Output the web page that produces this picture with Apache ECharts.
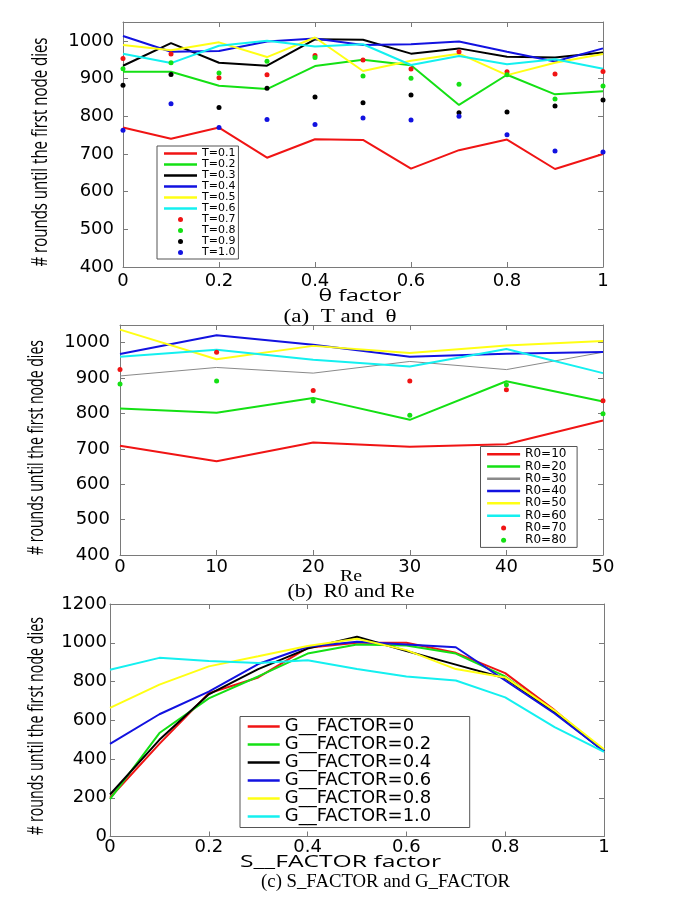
<!DOCTYPE html>
<html><head><meta charset="utf-8">
<script src="https://cdn.jsdelivr.net/npm/echarts@6/dist/echarts.min.js"></script>
<style>html,body{margin:0;padding:0;background:#fff}#c{width:685px;height:908px}</style>
</head><body><div id="c"></div>
<script>
// ---------- data: panel (a) T and theta ----------
const thetaX = [0, 0.1, 0.2, 0.3, 0.4, 0.5, 0.6, 0.7, 0.8, 0.9, 1];
const T01 = [770, 740, 770, 690, 739, 737, 661, 710, 738, 660, 700];
const T02 = [918, 918, 881, 872, 933, 950, 935, 830, 910, 858, 866];
const T03 = [934, 994, 942, 934, 1004, 1003, 966, 980, 958, 956, 969];
const T04 = [1013, 971, 973, 998, 1006, 989, 991, 998, 971, 945, 980];
const T05 = [989, 975, 996, 957, 1009, 920, 947, 966, 909, 942, 965];
const T06 = [966, 941, 987, 1000, 985, 991, 936, 960, 938, 951, 926];
const T07 = [953, 965, 902, 910, 961, 949, 925, 971, 918, 912, 919];
const T08 = [926, 942, 915, 946, 956, 907, 901, 885, 910, 846, 880];
const T09 = [882, 911, 823, 874, 851, 836, 856, 809, 811, 827, 843];
const T10 = [763, 833, 770, 791, 778, 795, 790, 800, 751, 708, 705];
const linesA = ['T=0.1','T=0.2','T=0.3','T=0.4','T=0.5','T=0.6'];
const dotsA = ['T=0.7','T=0.8','T=0.9','T=1.0'];

// ---------- data: panel (b) R0 and Re ----------
const reX = [0, 10, 20, 30, 40, 50];
const R10 = [709, 665, 718, 706, 713, 780];
const R20 = [814, 802, 844, 782, 891, 834];
const R30 = [906, 930, 914, 947, 924, 973];
const R40 = [968, 1021, 994, 960, 969, 974];
const R50 = [1037, 953, 991, 971, 992, 1005];
const R60 = [960, 980, 952, 933, 982, 914];
const R70 = [924, 973, 865, 892, 867, 836];
const R80 = [883, 892, 835, 795, 881, 799];
const linesB = ['R0=10','R0=20','R0=30','R0=40','R0=50','R0=60'];
const dotsB = ['R0=70','R0=80'];

// ---------- data: panel (c) S_FACTOR and G_FACTOR ----------
const sX = [0, 0.1, 0.2, 0.3, 0.4, 0.5, 0.6, 0.7, 0.8, 0.9, 1];
const G00 = [200, 478, 739, 821, 974, 1000, 1000, 948, 843, 652, 440];
const G02 = [193, 534, 713, 826, 944, 991, 986, 944, 826, 645, 440];
const G04 = [217, 499, 734, 864, 970, 1031, 957, 887, 817, 640, 440];
const G06 = [478, 631, 748, 890, 979, 1005, 991, 977, 805, 635, 440];
const G08 = [664, 784, 878, 930, 983, 1021, 962, 864, 821, 650, 450];
const G10 = [861, 922, 906, 896, 910, 865, 826, 805, 718, 565, 437];
const linesC = ['G__FACTOR=0','G__FACTOR=0.2','G__FACTOR=0.4','G__FACTOR=0.6','G__FACTOR=0.8','G__FACTOR=1.0'];

// tick labels
const yTicksAB = [400, 500, 600, 700, 800, 900, 1000];
const yTicksC = [0, 200, 400, 600, 800, 1000, 1200];

// ---------- styling ----------
const RED = '#f01414', GREEN = '#14e014', BLACK = '#000000', BLUE = '#1212e0', YELLOW = '#ffff14', CYAN = '#14f0f0', GRAY = '#8a8a8a';
const AX = '#7a7a7a';
const TICKFONT = 'DejaVu Sans';
const LINE_ICON = 'path://M0,0H40V3H0Z';

function pairs(xs, ys) { return xs.map((x, i) => [x, ys[i]]); }
function legendData(lines, dots) {
  return lines.map(n => ({ name: n, icon: LINE_ICON })).concat((dots || []).map(n => ({ name: n, icon: 'circle' })));
}

function xAxes(grid, min, max, interval, margin) {
  return [
    { type: 'value', gridIndex: grid, min, max, interval, position: 'bottom',
      axisLine: { show: true, onZero: false, lineStyle: { color: AX, width: 1 } },
      axisTick: { show: true, inside: true, length: 5, lineStyle: { color: AX } },
      axisLabel: { margin, color: '#000', fontFamily: TICKFONT, fontSize: 18 },
      splitLine: { show: false } },
    { type: 'value', gridIndex: grid, min, max, interval, position: 'top',
      axisLine: { show: true, onZero: false, lineStyle: { color: AX, width: 1 } },
      axisTick: { show: true, inside: true, length: 5, lineStyle: { color: AX } },
      axisLabel: { show: false }, splitLine: { show: false } }
  ];
}
function yAxes(grid, min, max, interval, margin, ticks) {
  return [
    { type: 'value', gridIndex: grid, min, max, interval, position: 'left',
      axisLine: { show: true, onZero: false, lineStyle: { color: AX, width: 1 } },
      axisTick: { show: true, inside: true, length: 5, lineStyle: { color: AX } },
      axisLabel: { margin, color: '#000', fontFamily: TICKFONT, fontSize: 18,
        formatter: v => ticks.includes(v) ? String(v) : '' },
      splitLine: { show: false } },
    { type: 'value', gridIndex: grid, min, max, interval, position: 'right',
      axisLine: { show: true, onZero: false, lineStyle: { color: AX, width: 1 } },
      axisTick: { show: true, inside: true, length: 5, lineStyle: { color: AX } },
      axisLabel: { show: false }, splitLine: { show: false } }
  ];
}
function line(name, xs, ys, color, axisIdx, width) {
  return { type: 'line', name, data: pairs(xs, ys), xAxisIndex: axisIdx, yAxisIndex: axisIdx,
    symbol: 'none', showSymbol: false, lineStyle: { color, width: width || 2 }, itemStyle: { color }, z: 2 };
}
function dots(name, xs, ys, color, axisIdx) {
  return { type: 'scatter', name, data: pairs(xs, ys), xAxisIndex: axisIdx, yAxisIndex: axisIdx,
    symbol: 'circle', symbolSize: 5, itemStyle: { color, opacity: 1 }, z: 3 };
}

// text fitting helpers for titles (stretched like the reference)
const mctx = document.createElement('canvas').getContext('2d');
function textW(text, font) { mctx.font = font; return mctx.measureText(text).width; }
function hText(text, cx, cy, family, size, targetW) {
  const font = size + 'px "' + family + '"';
  const s = targetW / textW(text, font);
  return { type: 'text', x: cx, y: cy, scaleX: s, z: 10,
    style: { text, font, fill: '#000', align: 'center', verticalAlign: 'middle' } };
}
function vText(text, cx, cy, family, size, targetLen, thick) {
  const font = size + 'px "' + family + '"';
  const s = targetLen / textW(text, font);
  return { type: 'text', x: cx, y: cy, rotation: Math.PI / 2, scaleX: s, scaleY: thick, z: 10,
    style: { text, font, fill: '#000', align: 'center', verticalAlign: 'middle' } };
}

const yTitle = '# rounds until the first node dies';

const option = {
  backgroundColor: '#fff',
  animation: false,
  grid: [
    { left: 123, width: 480, top: 22, height: 245 },
    { left: 120, width: 483, top: 325, height: 230 },
    { left: 110, width: 494, top: 604, height: 232.5 }
  ],
  xAxis: [].concat(xAxes(0, 0, 1, 0.2, 5), xAxes(1, 0, 50, 10, 3), xAxes(2, 0, 1, 0.2, 2)),
  yAxis: [].concat(yAxes(0, 400, 1050, 100, 9, yTicksAB), yAxes(1, 400, 1050, 100, 10, yTicksAB), yAxes(2, 0, 1200, 200, 3, yTicksC)),
  legend: [
    { data: legendData(linesA, dotsA), orient: 'vertical', left: 157, top: 146, itemWidth: 33, itemHeight: 5, itemGap: 0,
      padding: [2, 3, 1, 7], backgroundColor: '#fff', borderColor: '#555', borderWidth: 1, selectedMode: false,
      textStyle: { fontFamily: TICKFONT, fontSize: 11, lineHeight: 11, width: 33, color: '#000' } },
    { data: legendData(linesB, dotsB), orient: 'vertical', left: 480.5, top: 446.5, itemWidth: 33, itemHeight: 5, itemGap: 0,
      padding: [1.5, 8, 1, 6.6], backgroundColor: '#fff', borderColor: '#555', borderWidth: 1, selectedMode: false,
      textStyle: { fontFamily: TICKFONT, fontSize: 12, lineHeight: 12.3, width: 44, color: '#000' } },
    { data: legendData(linesC), orient: 'vertical', left: 240, top: 716.5, itemWidth: 32, itemHeight: 6, itemGap: 0,
      padding: [1, 10, 2, 7.7], backgroundColor: '#fff', borderColor: '#555', borderWidth: 1, selectedMode: false,
      textStyle: { fontFamily: TICKFONT, fontSize: 18, lineHeight: 17.5, width: 175, color: '#000' } }
  ],
  graphic: [
    vText(yTitle, 41, 152, 'Open Sans', 15, 229, 1.5),
    hText('θ factor', 360, 296, 'Open Sans', 16, 83),
    hText('(a)  T and  θ', 340, 317, 'Liberation Serif', 18, 113),
    vText(yTitle, 37, 447.5, 'Open Sans', 14, 215, 1.5),
    hText('Re', 351, 577, 'Liberation Serif', 17, 22),
    hText('(b)  R0 and Re', 351, 592, 'Liberation Serif', 18, 127),
    vText(yTitle, 37, 726, 'Open Sans', 14, 218, 1.5),
    hText('S__FACTOR factor', 340.5, 862, 'Open Sans', 16, 201),
    hText('(c) S_FACTOR and G_FACTOR', 385.6, 882, 'Liberation Serif', 18, 249)
  ],
  series: [
    line('T=0.1', thetaX, T01, RED, 0),
    line('T=0.2', thetaX, T02, GREEN, 0),
    line('T=0.3', thetaX, T03, BLACK, 0),
    line('T=0.4', thetaX, T04, BLUE, 0),
    line('T=0.5', thetaX, T05, YELLOW, 0),
    line('T=0.6', thetaX, T06, CYAN, 0),
    dots('T=0.7', thetaX, T07, RED, 0),
    dots('T=0.8', thetaX, T08, GREEN, 0),
    dots('T=0.9', thetaX, T09, BLACK, 0),
    dots('T=1.0', thetaX, T10, BLUE, 0),

    line('R0=10', reX, R10, RED, 2),
    line('R0=20', reX, R20, GREEN, 2),
    line('R0=30', reX, R30, GRAY, 2, 1),
    line('R0=40', reX, R40, BLUE, 2),
    line('R0=50', reX, R50, YELLOW, 2),
    line('R0=60', reX, R60, CYAN, 2),
    dots('R0=70', reX, R70, RED, 2),
    dots('R0=80', reX, R80, GREEN, 2),

    line('G__FACTOR=0', sX, G00, RED, 4),
    line('G__FACTOR=0.2', sX, G02, GREEN, 4),
    line('G__FACTOR=0.4', sX, G04, BLACK, 4),
    line('G__FACTOR=0.6', sX, G06, BLUE, 4),
    line('G__FACTOR=0.8', sX, G08, YELLOW, 4),
    line('G__FACTOR=1.0', sX, G10, CYAN, 4)
  ]
};
const chart = echarts.init(document.getElementById('c'), null, { renderer: 'canvas' });
chart.setOption(option);
</script>
</body></html>
